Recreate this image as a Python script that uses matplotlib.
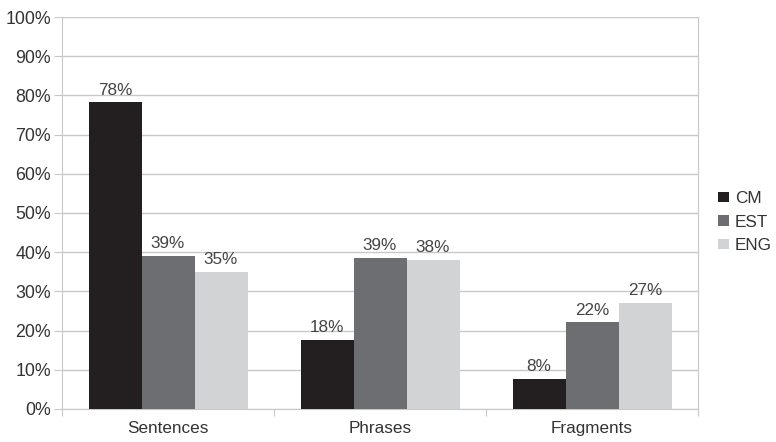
import matplotlib.pyplot as plt
import numpy as np

plt.rcParams['font.family'] = ['Liberation Sans', 'DejaVu Sans']

#Data
categories = ['Sentences', 'Phrases', 'Fragments']
series = ['CM', 'EST', 'ENG']
cm = [78.2, 17.6, 7.6]
est = [39.1, 38.6, 22.1]
eng = [35.0, 38.0, 27.1]
colors = ['#231f20', '#6d6e71', '#d1d3d4']

values = [cm, est, eng]
grid_c = '#c8c8c8'
text_c = '#333333'

fig = plt.figure(figsize=(7.76, 4.42), dpi=100)
ax = fig.add_axes([0.0799, 0.0747, 0.8196, 0.8868])

x = np.arange(len(categories))
w = 0.25
for i, vals in enumerate(values):
    pos = x + (i - 1) * w
    bars = ax.bar(pos, vals, width=w, color=colors[i], label=series[i], zorder=3)
    for b, v in zip(bars, vals):
        ax.text(b.get_x() + b.get_width() / 2, v + 1.2, f'{round(v)}%',
                ha='center', va='bottom', fontsize=12.3, color='#444444')

#Axes
ax.set_xlim(-0.5, 2.5)
ax.set_ylim(0, 100)
ax.set_yticks(np.arange(0, 101, 10))
ax.set_yticklabels([f'{t}%' for t in range(0, 101, 10)])
ax.yaxis.grid(True, color=grid_c, lw=1, zorder=0)
ax.set_xticks([-0.5, 0.5, 1.5, 2.5])
ax.set_xticklabels([])
ax.set_xticks(x, minor=True)
ax.set_xticklabels(categories, minor=True)
ax.tick_params(axis='x', which='major', length=5, color=grid_c)
ax.tick_params(axis='x', which='minor', length=0, pad=9, labelsize=12.3, labelcolor=text_c)
ax.tick_params(axis='y', length=5.8, color=grid_c, labelsize=12.8, labelcolor=text_c, pad=2.2)
for s in ax.spines.values():
    s.set_color(grid_c)
ax.spines['top'].set_visible(False)

ax.legend(loc='center left', bbox_to_anchor=(1.008, 0.477), frameon=False,
          handlelength=0.6, handleheight=0.6, handletextpad=0.35,
          labelspacing=0.5, fontsize=12.3, labelcolor=text_c)

fig.savefig('out.png', dpi=100)
